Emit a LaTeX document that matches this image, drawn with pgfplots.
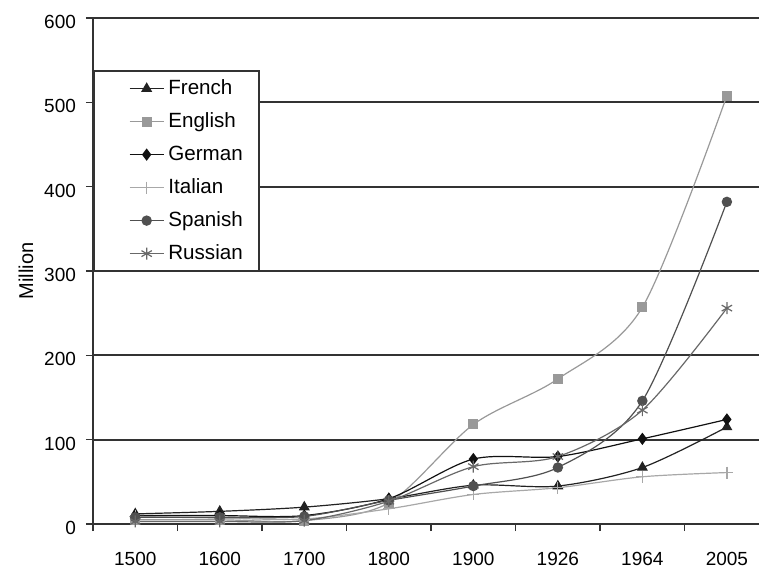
\documentclass[border=0pt]{standalone}
\usepackage{pgfplots}
\pgfplotsset{compat=1.18}
\usepackage{pgfplotstable}
\usepackage{fontspec}
\setmainfont{Liberation Sans}

\definecolor{gridgray}{HTML}{333333}
\definecolor{frc}{HTML}{222222}
\definecolor{eng}{HTML}{999999}
\definecolor{ger}{HTML}{111111}
\definecolor{ita}{HTML}{A8A8A8}
\definecolor{spa}{HTML}{505050}
\definecolor{rus}{HTML}{686868}

% speakers in million, categories 1500 ... 2005 at 0 ... 7
\pgfplotstableread{
x French English German Italian Spanish Russian
0 12  5   10  9  8   3
1 15  5   10  7  8   3
2 20  4   10  6  9   4
3 30  25  30  18 28  27
4 46  118 77  35 45  68
5 45  172 80  43 67  80
6 67  257 101 56 146 135
7 115 508 124 61 382 256
}\speakers

\begin{document}
\begin{tikzpicture}
\path[use as bounding box] (-46.5pt,-22pt) rectangle (333pt,262pt);
\begin{axis}[
    at={(0,0)}, anchor=south west,
    scale only axis,
    width=333pt, height=253pt,
    xmin=-0.5, xmax=7.38,
    ymin=0, ymax=600,
    axis x line*=bottom,
    axis y line*=left,
    axis line style={gridgray, line width=1pt},
    tick align=outside,
    major tick length=3.5pt,
    tick style={gridgray, line width=0.8pt},
    xtick={-0.5,0.5,...,6.5},
    xticklabels={},
    extra x ticks={0,1,...,7},
    extra x tick labels={1500,1600,1700,1800,1900,1926,1964,2005},
    extra x tick style={major tick length=0pt},
    ytick={0,100,...,600},
    ymajorgrids=true,
    grid style={gridgray, line width=0.9pt},
    /pgf/number format/assume math mode=true,
    tick label style={font=\fontsize{9.5}{11}\selectfont},
    xticklabel style={yshift=-10.5pt},
    yticklabel style={xshift=-1.5pt, yshift=-2pt},
    ylabel={Million},
    every axis y label/.style={at={([xshift=-33.5pt]rel axis cs:0,0.5)},
        rotate=90, anchor=center, font=\fontsize{10}{12}\selectfont},
    every axis plot/.append style={line width=0.6pt, smooth},
    legend cell align=left,
    legend image code/.code={
        \path (-11.5pt,0pt);
        \draw[mark repeat=2,mark phase=2]
            plot coordinates {(0cm,0cm) (0.3cm,0cm) (0.6cm,0cm)};
    },
    legend style={
        at={(0,0.897)}, anchor=north west,
        draw=gridgray, line width=1pt,
        font=\fontsize{10.3}{12}\selectfont,
        inner xsep=6pt, inner ysep=1.5pt,
        row sep=2pt,
        nodes={inner sep=2pt, text height=8pt, text depth=2.5pt},
    },
]
\addplot[frc, mark=triangle*, mark size=2.6pt] table[x=x, y=French] {\speakers};
\addlegendentry{French}
\addplot[eng, mark=square*, mark size=2.2pt] table[x=x, y=English] {\speakers};
\addlegendentry{English}
\addplot[ger, mark=diamond*, mark size=2.6pt] table[x=x, y=German] {\speakers};
\addlegendentry{German}
\addplot[ita, mark=+, mark size=3pt] table[x=x, y=Italian] {\speakers};
\addlegendentry{Italian}
\addplot[spa, mark=*, mark size=2.3pt] table[x=x, y=Spanish] {\speakers};
\addlegendentry{Spanish}
\addplot[rus, mark=asterisk, mark size=3pt] table[x=x, y=Russian] {\speakers};
\addlegendentry{Russian}
\end{axis}
\end{tikzpicture}
\end{document}
